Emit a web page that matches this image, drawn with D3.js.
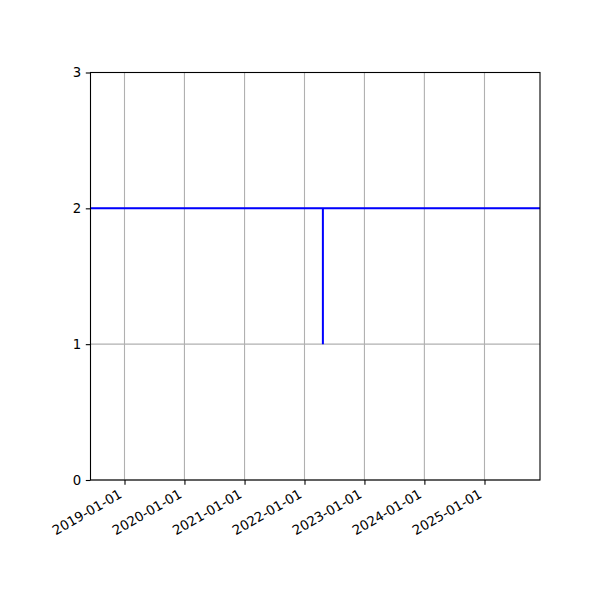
<!DOCTYPE html>
<html lang="en">
<head>
  <meta charset="UTF-8" />
  <title>Step chart</title>
  <style>
    body {
      margin: 0;
      background-color: #fff;
    }

    .grid line {
      stroke: #b0b0b0;
      stroke-width: 1.1px;
    }

    .axis text {
      font-family: "DejaVu Sans", sans-serif;
      font-size: 13.3px;
      fill: #000;
    }
  </style>
</head>
<body>
  <svg width="600" height="600"></svg>

  <script src="https://d3js.org/d3.v7.min.js"></script>
  <script>
    // data
    const dates = ["2018-06-08", "2022-04-23", "2022-04-23", "2022-04-23", "2025-12-05"];
    const values = [2, 2, 1, 2, 2];
    const xTicks = ["2019-01-01", "2020-01-01", "2021-01-01", "2022-01-01", "2023-01-01", "2024-01-01", "2025-01-01"];
    const yTicks = [0, 1, 2, 3];
    const xLimits = ["2018-06-08", "2025-12-05"];
    const yLimits = [0, 3];

    const parse = d3.utcParse("%Y-%m-%d");
    const points = dates.map((d, i) => ({ date: parse(d), value: values[i] }));

    const margin = { top: 72.5, right: 60, bottom: 120, left: 90.5 };
    const width = 600 - margin.left - margin.right;
    const height = 600 - margin.top - margin.bottom;

    const svg = d3.select("svg");
    const g = svg.append("g")
      .attr("transform", `translate(${margin.left},${margin.top})`);

    const x = d3.scaleUtc()
      .domain(xLimits.map(parse))
      .range([0, width]);

    const y = d3.scaleLinear()
      .domain(yLimits)
      .range([height, 0]);

    // grid lines
    g.append("g")
      .attr("class", "grid")
      .selectAll("line.v")
      .data(xTicks.map(parse))
      .join("line")
      .attr("x1", d => x(d)).attr("x2", d => x(d))
      .attr("y1", 0).attr("y2", height);

    g.append("g")
      .attr("class", "grid")
      .selectAll("line.h")
      .data(yTicks)
      .join("line")
      .attr("x1", 0).attr("x2", width)
      .attr("y1", d => y(d)).attr("y2", d => y(d));

    // the series
    const line = d3.line()
      .x(d => x(d.date))
      .y(d => y(d.value));

    g.append("path")
      .datum(points)
      .attr("fill", "none")
      .attr("stroke", "#0000ff")
      .attr("stroke-width", 2)
      .attr("d", line);

    // axes
    const xAxis = g.append("g")
      .attr("class", "axis")
      .attr("transform", `translate(0,${height})`)
      .call(d3.axisBottom(x)
        .tickValues(xTicks.map(parse))
        .tickFormat(d3.utcFormat("%Y-%m-%d"))
        .tickSize(4.7)
        .tickPadding(4));

    xAxis.select(".domain").remove();
    // rotated labels, right/top aligned on the tick like autofmt_xdate
    xAxis.selectAll("text")
      .attr("text-anchor", "end")
      .attr("dy", null)
      .attr("y", null)
      .attr("dominant-baseline", "hanging")
      .attr("transform", "translate(-7,8.5) rotate(-30)");

    const yAxis = g.append("g")
      .attr("class", "axis")
      .call(d3.axisLeft(y)
        .tickValues(yTicks)
        .tickFormat(d3.format("d"))
        .tickSize(4.7)
        .tickPadding(4.5));
    yAxis.select(".domain").remove();

    g.selectAll(".axis .tick line").attr("stroke", "#000").attr("stroke-width", 1.1);

    // frame
    g.append("rect")
      .attr("width", width)
      .attr("height", height)
      .attr("fill", "none")
      .attr("stroke", "#000")
      .attr("stroke-width", 1.1);
  </script>
</body>
</html>
